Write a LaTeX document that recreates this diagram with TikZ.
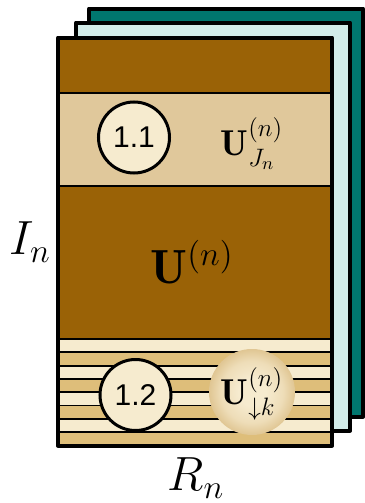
\documentclass[tikz,border=0pt]{standalone}
\usepackage{fix-cm}
\usepackage{amsmath,amssymb}
\usepackage{fontspec}
\newfontfamily\badgefont{Liberation Sans}
\usepackage{xcolor}
\definecolor{sheetteal}{HTML}{00766E}
\definecolor{sheetcyan}{HTML}{D3ECE9}
\definecolor{bandbrown}{HTML}{9A6206}
\definecolor{bandtan}{HTML}{E0C89B}
\definecolor{stripecream}{HTML}{F6EBCF}
\definecolor{stripetan}{HTML}{DEBE7A}
\definecolor{ballmid}{HTML}{EEDDB8}
\definecolor{balledge}{HTML}{E0C693}
\pgfdeclareradialshading{ballshade}{\pgfpoint{0bp}{0bp}}{%
  color(0bp)=(stripecream); color(8bp)=(stripecream); color(18bp)=(ballmid);
  color(25bp)=(balledge); color(50bp)=(balledge)}

\begin{document}
\begin{tikzpicture}[x=0.5pt, y=-0.5pt,
    sheet/.style={draw=black, line width=2pt, line join=round},
    sep/.style={draw=black, line width=1.2pt},
    thinsep/.style={draw=black, line width=0.9pt},
    badge/.style={circle, draw=black, line width=1.5pt, fill=stripecream,
      minimum size=35.5pt, inner sep=0pt, font=\fontsize{15}{18}\badgefont},
    lbl/.style={font=\fontsize{18}{22}\selectfont, inner sep=0pt},
    big/.style={font=\fontsize{24}{29}\selectfont, inner sep=0pt},
  ]
  \useasboundingbox (0,0) rectangle (364,503);

  % ---- sheets behind
  \draw[sheet, fill=sheetteal] (89,8.5) rectangle (363,416.5);
  \draw[sheet, fill=sheetcyan] (76,22.5) rectangle (350,430.5);

  % ---- front sheet: bands
  \fill[bandbrown] (58,37.5) rectangle (332,93);
  \fill[bandtan] (58,93) rectangle (332,186);
  \fill[bandbrown] (58,186) rectangle (332,339);
  \foreach \i in {0,2,4,6} {
    \fill[stripecream] (58,{339+\i*13.3125}) rectangle (332,{339+(\i+1)*13.3125});
    \fill[stripetan] (58,{339+(\i+1)*13.3125}) rectangle (332,{339+(\i+2)*13.3125});
  }
  \foreach \i in {1,...,7}
    \draw[thinsep] (58,{339+\i*13.3125}) -- (332,{339+\i*13.3125});
  \draw[sep] (58,93) -- (332,93);
  \draw[sep] (58,186) -- (332,186);
  \draw[sep] (58,339) -- (332,339);
  \draw[sheet] (58,37.5) rectangle (332,445.5);

  % ---- steps and factors
  \node[badge] (step11) at (134,137.5) {1.1};
  \node[badge] (step12) at (135.5,395) {1.2};
  \node[lbl] (ujn) at (252,144) {$\mathbf{U}^{(n)}_{J_n}$};
  \node[big] (un) at (192,262) {$\mathbf{U}^{(n)}$};
  \node[circle, minimum size=43pt, inner sep=0pt, shading=ballshade] (ball) at (252,392) {};
  \node[lbl] (udk) at (252,394) {$\mathbf{U}^{(n)}_{\downarrow k}$};

  % ---- mode sizes
  \node[big] (In) at (30,242) {$I_n$};
  \node[big] (Rn) at (196,478) {$R_n$};
\end{tikzpicture}
\end{document}
